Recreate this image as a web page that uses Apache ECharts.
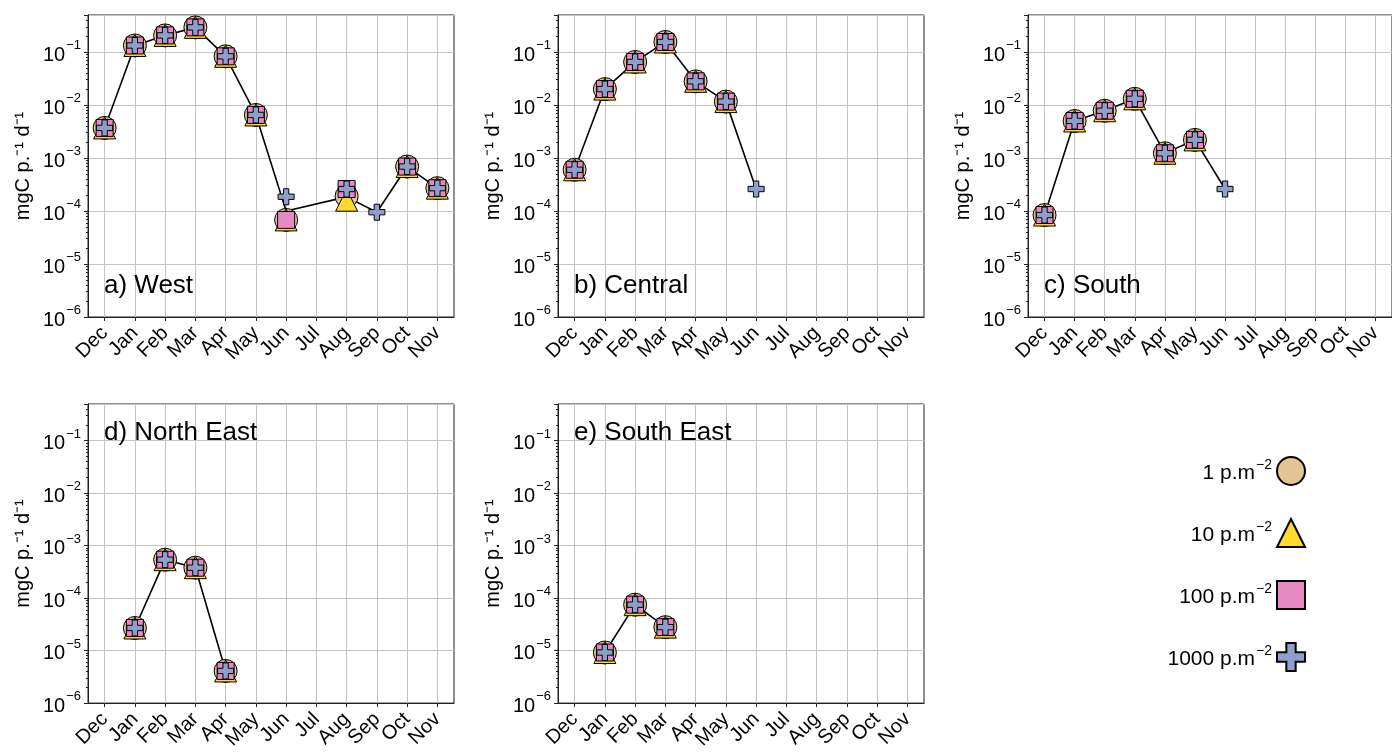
<!DOCTYPE html>
<html>
<head>
<meta charset="utf-8">
<script src="https://cdn.jsdelivr.net/npm/echarts@6/dist/echarts.min.js"></script>
<style>html,body{margin:0;padding:0;background:#fff;}#c{width:1392px;height:752px;}</style>
</head>
<body>
<div id="c"></div>
<script>
const months = ['Dec','Jan','Feb','Mar','Apr','May','Jun','Jul','Aug','Sep','Oct','Nov'];
const densityNames = ['1', '10', '100', '1000'];
const panelLabels = ['a) West', 'b) Central', 'c) South', 'd) North East', 'e) South East'];

// a) West
const westCircle   = [3.7e-3, 0.133, 0.206, 0.292, 0.083, 6.5e-3, 6.8e-5, null, 1.9e-4, null, 6.9e-4, 2.7e-4];
const westTriangle = [3.7e-3, 0.133, 0.206, 0.292, 0.083, 6.5e-3, 6.8e-5, null, 1.6e-4, null, 6.9e-4, 2.7e-4];
const westSquare   = [3.7e-3, 0.133, 0.206, 0.292, 0.083, 6.5e-3, 6.8e-5, null, 2.6e-4, null, 6.9e-4, 2.7e-4];
const westPlus     = [3.7e-3, 0.133, 0.206, 0.292, 0.083, 6.5e-3, 1.86e-4, null, 2.6e-4, 9.5e-5, 6.9e-4, 2.7e-4];
const westLine     = [3.7e-3, 0.133, 0.206, 0.292, 0.083, 6.5e-3, 1.0e-4, null, 1.85e-4, 9.5e-5, 6.9e-4, 2.7e-4];

// b) Central
const centralCircle   = [6.0e-4, 0.020, 0.065, 0.155, 0.028, 0.0116, null, null, null, null, null, null];
const centralTriangle = [6.0e-4, 0.020, 0.065, 0.155, 0.028, 0.0116, null, null, null, null, null, null];
const centralSquare   = [6.0e-4, 0.020, 0.065, 0.155, 0.028, 0.0116, null, null, null, null, null, null];
const centralPlus     = [6.0e-4, 0.020, 0.065, 0.155, 0.028, 0.0116, 2.6e-4, null, null, null, null, null];
const centralLine     = [6.0e-4, 0.020, 0.065, 0.155, 0.028, 0.0116, 2.6e-4, null, null, null, null, null];

// c) South
const southCircle   = [8.4e-5, 5.0e-3, 7.8e-3, 0.0131, 1.23e-3, 2.2e-3, null, null, null, null, null, null];
const southTriangle = [8.4e-5, 5.0e-3, 7.8e-3, 0.0131, 1.23e-3, 2.2e-3, null, null, null, null, null, null];
const southSquare   = [8.4e-5, 5.0e-3, 7.8e-3, 0.0131, 1.23e-3, 2.2e-3, null, null, null, null, null, null];
const southPlus     = [8.4e-5, 5.0e-3, 7.8e-3, 0.0131, 1.23e-3, 2.2e-3, 2.6e-4, null, null, null, null, null];
const southLine     = [8.4e-5, 5.0e-3, 7.8e-3, 0.0131, 1.23e-3, 2.2e-3, 2.6e-4, null, null, null, null, null];

// d) North East
const northEastCircle   = [null, 2.7e-5, 5.4e-4, 3.8e-4, 4.1e-6, null, null, null, null, null, null, null];
const northEastTriangle = [null, 2.7e-5, 5.4e-4, 3.8e-4, 4.1e-6, null, null, null, null, null, null, null];
const northEastSquare   = [null, 2.7e-5, 5.4e-4, 3.8e-4, 4.1e-6, null, null, null, null, null, null, null];
const northEastPlus     = [null, 2.7e-5, 5.4e-4, 3.8e-4, 4.1e-6, null, null, null, null, null, null, null];
const northEastLine     = [null, 2.7e-5, 5.4e-4, 3.8e-4, 4.1e-6, null, null, null, null, null, null, null];

// e) South East
const southEastCircle   = [null, 9.2e-6, 7.5e-5, 2.8e-5, null, null, null, null, null, null, null, null];
const southEastTriangle = [null, 9.2e-6, 7.5e-5, 2.8e-5, null, null, null, null, null, null, null, null];
const southEastSquare   = [null, 9.2e-6, 7.5e-5, 2.8e-5, null, null, null, null, null, null, null, null];
const southEastPlus     = [null, 9.2e-6, 7.5e-5, 2.8e-5, null, null, null, null, null, null, null, null];
const southEastLine     = [null, 9.2e-6, 7.5e-5, 2.8e-5, null, null, null, null, null, null, null, null];

const panels = [
  {label: panelLabels[0], circle: westCircle, triangle: westTriangle, square: westSquare, plus: westPlus, line: westLine},
  {label: panelLabels[1], circle: centralCircle, triangle: centralTriangle, square: centralSquare, plus: centralPlus, line: centralLine},
  {label: panelLabels[2], circle: southCircle, triangle: southTriangle, square: southSquare, plus: southPlus, line: southLine},
  {label: panelLabels[3], circle: northEastCircle, triangle: northEastTriangle, square: northEastSquare, plus: northEastPlus, line: northEastLine},
  {label: panelLabels[4], circle: southEastCircle, triangle: southEastTriangle, square: southEastSquare, plus: southEastPlus, line: southEastLine}
];

const FONT = 'Liberation Sans, Arial, Helvetica, sans-serif';
const PLUS_PATH = 'path://M1,0H2V1H3V2H2V3H1V2H0V1H1Z';
const seriesStyle = [
  {key: 'circle',   symbol: 'circle',   size: 23, color: '#E5C494'},
  {key: 'triangle', symbol: 'triangle', size: 22, color: '#FFD92F'},
  {key: 'square',   symbol: 'rect',     size: 17, color: '#E78AC3'},
  {key: 'plus',     symbol: PLUS_PATH,  size: 16, color: '#8DA0CB'}
];
const legendIcons = ['circle', 'triangle', 'rect', PLUS_PATH];

const gridPos = [
  {left: 88, top: 15}, {left: 558, top: 15}, {left: 1028, top: 15},
  {left: 88, top: 404}, {left: 558, top: 404}
];
const GW = 366, GH = 302;

function pairs(arr) {
  const out = [];
  arr.forEach((v, i) => { if (v !== null) out.push([i, v]); });
  return out;
}
function yLabel(v) {
  const e = Math.log10(v);
  if (Math.abs(e - Math.round(e)) > 1e-6) return '';
  return '{b|10}{s|−' + Math.abs(Math.round(e)) + '}';
}
const minorVals = [];
for (let e = -6; e <= -1; e++) for (let m = 2; m <= 9; m++) { const v = m * Math.pow(10, e); if (v <= 0.5) minorVals.push(v); }
const monthIdx = months.map((m, i) => i);

const grids = [], xAxes = [], yAxes = [], series = [], titles = [];
panels.forEach((p, k) => {
  grids.push({left: gridPos[k].left, top: gridPos[k].top, width: GW, height: GH, show: true,
    borderColor: '#222', borderWidth: 1, backgroundColor: 'transparent', containLabel: false});
  xAxes.push({
    type: 'value', gridIndex: k, min: -0.55, max: 11.55,
    axisLine: {show: true, onZero: false, lineStyle: {color: '#222', width: 1}},
    axisTick: {show: true, inside: false, length: 4, lineStyle: {color: '#222'}, customValues: monthIdx},
    axisLabel: {show: true, rotate: 45, margin: 13, fontSize: 20, color: '#000', fontFamily: FONT,
      customValues: monthIdx, formatter: v => months[Math.round(v)]},
    splitLine: {show: true, lineStyle: {color: '#c4c4c4', width: 1}}
  });
  yAxes.push({
    type: 'log', logBase: 10, gridIndex: k, min: 1e-6, max: 0.5,
    name: 'mgC p.⁻¹ d⁻¹', nameLocation: 'middle', nameGap: 55, nameRotate: 90,
    nameTextStyle: {fontSize: 20, color: '#000', fontFamily: FONT},
    axisLine: {show: true, onZero: false, lineStyle: {color: '#222', width: 1}},
    axisTick: {show: true, inside: false, length: 4, lineStyle: {color: '#222'}},
    axisLabel: {show: true, margin: 7, color: '#000', fontFamily: FONT, formatter: yLabel,
      rich: {b: {fontSize: 20, fontFamily: FONT, color: '#000', lineHeight: 26, verticalAlign: 'bottom'},
             s: {fontSize: 13, fontFamily: FONT, color: '#000', lineHeight: 26, verticalAlign: 'top', padding: [0,0,0,1]}}},
    splitLine: {show: true, lineStyle: {color: '#c4c4c4', width: 1}}
  });
  yAxes.push({
    type: 'log', logBase: 10, gridIndex: k, min: 1e-6, max: 0.5, position: 'left',
    axisLine: {show: false, onZero: false}, axisLabel: {show: false}, splitLine: {show: false},
    axisTick: {show: true, inside: false, length: 2, lineStyle: {color: '#222'}, customValues: minorVals}
  });
  const yIdx = k * 2;
  series.push({
    type: 'line', name: 'line' + k, xAxisIndex: k, yAxisIndex: yIdx, data: pairs(p.line),
    showSymbol: false, symbol: 'none', lineStyle: {color: '#000', width: 1.6}, z: 2, silent: true,
    animation: false
  });
  seriesStyle.forEach((s, j) => {
    series.push({
      type: 'scatter', name: densityNames[j], xAxisIndex: k, yAxisIndex: yIdx,
      data: pairs(p[s.key]), symbol: s.symbol, symbolSize: s.size,
      itemStyle: {color: s.color, borderColor: '#000', borderWidth: 1, opacity: 1},
      z: 3 + j, animation: false
    });
  });
  titles.push({text: p.label, left: gridPos[k].left + 16, top: k < 3 ? 273 : 420, padding: 0,
    textStyle: {fontSize: 26, fontWeight: 'normal', color: '#000', fontFamily: FONT}});
});

const chart = echarts.init(document.getElementById('c'), null, {renderer: 'canvas'});
chart.setOption({
  animation: false,
  backgroundColor: '#fff',
  title: titles,
  grid: grids,
  xAxis: xAxes,
  yAxis: yAxes,
  legend: {
    orient: 'vertical', right: 86, top: 456, align: 'right', padding: 0,
    itemWidth: 28, itemHeight: 28, itemGap: 32,
    data: densityNames.map((n, i) => ({name: n, icon: legendIcons[i]})),
    formatter: n => '{a|' + n + ' p.m}{s|−2}',
    textStyle: {fontFamily: FONT, color: '#000', fontSize: 21,
      rich: {a: {fontSize: 21, fontFamily: FONT, color: '#000', lineHeight: 26, verticalAlign: 'bottom'},
             s: {fontSize: 14, fontFamily: FONT, color: '#000', lineHeight: 26, verticalAlign: 'top', padding: [0,0,0,1]}}},
    selectedMode: false
  },
  series: series
});
</script>
</body>
</html>
